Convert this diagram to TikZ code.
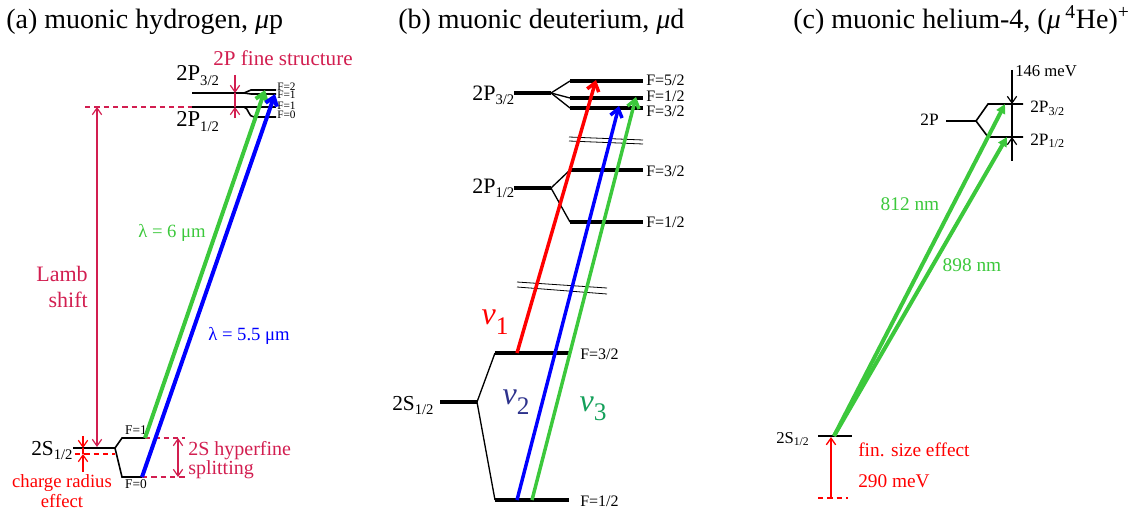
\documentclass[tikz,border=0pt]{standalone}
\usepackage{fontspec}
\setmainfont{Liberation Serif}
\usetikzlibrary{arrows.meta}

\definecolor{lambred}{RGB}{210,30,80}
\definecolor{lgreen}{RGB}{60,200,60}
\definecolor{nutwo}{RGB}{45,50,140}
\definecolor{nuthree}{RGB}{20,160,90}

\newcommand{\fsz}[2]{\fontsize{#1}{#2}\selectfont}
\newcommand{\nulab}[1]{{\fsz{24}{24}\itshape ν}\raisebox{-7pt}{\fsz{19}{19}#1}}
\newcommand{\lsub}[1]{\raisebox{-0.45ex}{\fsz{11}{11}#1}}

\begin{document}
\begin{tikzpicture}[x=0.75pt,y=-0.75pt,
    every node/.style={inner sep=0pt},
    lvl/.style={line width=1.2pt},
    blvl/.style={line width=3pt},
    split/.style={line width=1pt},
    brk/.style={line width=0.6pt},
    laser/.style={line width=3pt,-{Straight Barb[length=6pt,width=9pt]}},
    laserc/.style={line width=3pt,-{Triangle[length=7pt,width=7pt]}},
    dim/.style={line width=0.9pt,-{Straight Barb[length=5pt,width=7pt]}},
    dimboth/.style={line width=0.9pt,{Straight Barb[length=5pt,width=7pt]}-{Straight Barb[length=5pt,width=7pt]}},
    dimline/.style={line width=0.9pt,dash pattern=on 4pt off 3pt}]
\useasboundingbox (0,0) rectangle (1146,510);

  % titles
  \node[anchor=base west,font=\fsz{21}{21}] (titA) at (6,29) {(a) muonic hydrogen, \textit{μ}p};
  \node[anchor=base west,font=\fsz{21}{21}] (titB) at (398,29) {(b) muonic deuterium, \textit{μ}d};
  \node[anchor=base west,font=\fsz{21}{21}] (titC) at (793,29) {(c) muonic helium-4, (\textit{μ}\,\textsuperscript{4}He)\textsuperscript{+}};

  % (a) muonic hydrogen
  \draw [lvl]    (192,93) -- (244,93) -- (251,90) -- (276,90);
  \draw [lvl]    (244,93) -- (251,94) -- (276,94);
  \draw [lvl]    (192,107) -- (276,107);
  \draw [lvl]    (244,107) .. controls (249,108) and (248,117) .. (254,117) -- (276,117);
  \draw [lvl]    (73,448) -- (115,448) -- (122,438) -- (145,438);
  \draw [lvl]    (115,448) -- (122,477) -- (142,477);
  \coordinate (aS1) at (145,438);
  \coordinate (aS0) at (142,477);
  \coordinate (aP2) at (265,90);
  \coordinate (aP1) at (275,94);
  \node[anchor=west,font=\fsz{8.5}{8.5}] (aF2) at (277,87) {F=2};
  \node[anchor=west,font=\fsz{8.5}{8.5}] (aF1t) at (277,95) {F=1};
  \node[anchor=west,font=\fsz{8.5}{8.5}] (aF1b) at (277,106) {F=1};
  \node[anchor=west,font=\fsz{8.5}{8.5}] (aF0) at (277,115) {F=0};
  \node[anchor=base west,font=\fsz{17}{17}] (aP3lab) at (176,81) {2P\lsub{3/2}};
  \node[anchor=base west,font=\fsz{17}{17}] (aP1lab) at (176,127) {2P\lsub{1/2}};
  \node[anchor=base west,font=\fsz{16}{16}] (aSlab) at (31,455) {2S\lsub{1/2}};
  \node[font=\fsz{10}{10}] (aSF1) at (136,430) {F=1};
  \node[font=\fsz{10}{10}] (aSF0) at (136,484) {F=0};
  % fine structure
  \node[text=lambred,font=\fsz{15.8}{15.8}] (aFS) at (283,58) {2P fine structure};
  \coordinate (aFSa) at (235,75);
  \coordinate (aFSb) at (235,93);
  \coordinate (aFSc) at (235,107);
  \coordinate (aFSd) at (235,118);
  \draw [lambred,line width=0.9pt] (aFSb) -- (aFSc);
  \draw [dim,lambred] (aFSa) -- (aFSb);
  \draw [dim,lambred] (aFSd) -- (aFSc);
  % Lamb shift
  \coordinate (aLt) at (97,107);
  \coordinate (aLb) at (97,447);
  \draw [dimline,lambred] (85,107) -- (192,107);
  \draw [dimboth,lambred] (aLt) -- (aLb);
  \node[text=lambred,align=right,anchor=east,font=\fsz{16.5}{20}] (aLamb) at (88,287) {Lamb\\shift};
  % charge radius
  \coordinate (aCa) at (83,436);
  \coordinate (aCb) at (83,448);
  \coordinate (aCc) at (83,454);
  \coordinate (aCd) at (83,472);
  \draw [dimline,red] (75,454) -- (115,454);
  \draw [red,line width=0.9pt] (aCb) -- (aCc);
  \draw [dim,red] (aCa) -- (aCb);
  \draw [dim,red] (aCd) -- (aCc);
  \node[text=red,align=center,font=\fsz{14}{15}] (aCR) at (62,491) {charge radius\\effect};
  % hyperfine
  \draw [dimline,lambred] (aS1) -- (185,438);
  \draw [dimline,lambred] (aS0) -- (185,477);
  \draw [dimboth,lambred] (178,438) -- (178,477);
  \node[text=lambred,align=left,anchor=west,font=\fsz{15}{14.3}] (aHF) at (188,460) {2S hyperfine\\splitting};
  % transitions
  \draw [laser,lgreen] (aS1) -- (aP2);
  \draw [laser,blue]   (aS0) -- (aP1);
  \node[text=lgreen,font=\fsz{14}{14}] (aLg) at (172,233) {λ = 6 μm};
  \node[text=blue,font=\fsz{14}{14}] (aLbl) at (249,336) {λ = 5.5 μm};

  % (b) muonic deuterium
  \draw [blvl]   (514,93) -- (551,93);
  \draw [split]  (551,93) -- (570,81);
  \draw [split]  (551,93) -- (570,98);
  \draw [split]  (551,93) -- (570,108);
  \draw [blvl]   (570,81) -- (643,81);
  \draw [blvl]   (570,98) -- (643,98);
  \draw [blvl]   (570,108) -- (643,108);
  \draw [brk]    (569,137) -- (643,140);
  \draw [brk]    (569,141) -- (643,144);
  \draw [blvl]   (514,188) -- (551,188);
  \draw [split]  (551,188) -- (570,170);
  \draw [split]  (551,188) -- (570,222);
  \draw [blvl]   (570,170) -- (643,170);
  \draw [blvl]   (570,222) -- (643,222);
  \draw [brk]    (517,282) -- (607,288);
  \draw [brk]    (517,287) -- (607,294);
  \draw [blvl]   (440,402) -- (477,402);
  \draw [split]  (477,402) -- (495,353);
  \draw [split]  (477,402) -- (495,500);
  \draw [blvl]   (495,353) -- (569,353);
  \draw [blvl]   (495,500) -- (569,500);
  \node[anchor=west,font=\fsz{12}{12}] (bF52) at (646,80) {F=5/2};
  \node[anchor=west,font=\fsz{12}{12}] (bF12t) at (646,96) {F=1/2};
  \node[anchor=west,font=\fsz{12}{12}] (bF32t) at (646,111) {F=3/2};
  \node[anchor=west,font=\fsz{12}{12}] (bF32m) at (646,171) {F=3/2};
  \node[anchor=west,font=\fsz{12}{12}] (bF12m) at (646,222) {F=1/2};
  \node[anchor=west,font=\fsz{12}{12}] (bF32b) at (580,354) {F=3/2};
  \node[anchor=west,font=\fsz{12}{12}] (bF12b) at (580,501) {F=1/2};
  \node[anchor=base west,font=\fsz{16.5}{16.5}] (bP3lab) at (472,100) {2P\lsub{3/2}};
  \node[anchor=base west,font=\fsz{16.5}{16.5}] (bP1lab) at (472,193) {2P\lsub{1/2}};
  \node[anchor=base west,font=\fsz{16}{16}] (bSlab) at (392,410) {2S\lsub{1/2}};
  \coordinate (bS32) at (517,353);
  \coordinate (bS12a) at (517,500);
  \coordinate (bS12b) at (532,500);
  \coordinate (bP52) at (596,80);
  \coordinate (bP32) at (619,106);
  \coordinate (bP12) at (636,97);
  \draw [laser,line width=2.6pt,red]   (bS32) -- (bP52);
  \draw [laser,line width=2.6pt,blue]  (bS12a) -- (bP32);
  \draw [laser,line width=2.6pt,lgreen] (bS12b) -- (bP12);
  \node[text=red] (bNu1) at (495,322) {\nulab{1}};
  \node[text=nutwo] (bNu2) at (516,402) {\nulab{2}};
  \node[text=nuthree] (bNu3) at (593,409) {\nulab{3}};

  % (c) muonic helium-4
  \draw [lvl]    (946,121) -- (976,121) -- (988,104) -- (1023,104);
  \draw [lvl]    (976,121) -- (988,137) -- (1023,137);
  \draw [lvl]    (818,436) -- (852,436);
  \node[anchor=base east,font=\fsz{13}{13}] (c2P) at (939,125) {2P};
  \node[anchor=base west,font=\fsz{13}{13}] (cP3lab) at (1030,113) {2P\textsubscript{3/2}};
  \node[anchor=base west,font=\fsz{13}{13}] (cP1lab) at (1030,145) {2P\textsubscript{1/2}};
  \node[anchor=base west,font=\fsz{12.5}{12.5}] (cSlab) at (776,443) {2S\textsubscript{1/2}};
  \coordinate (cFt) at (1012,70);
  \coordinate (cFa) at (1012,104);
  \coordinate (cFb) at (1012,137);
  \coordinate (cFd) at (1012,161);
  \draw [line width=0.8pt] (cFt) -- (cFd);
  \draw [dim] (1012,88) -- (cFa);
  \draw [dim] (1012,153) -- (cFb);
  \node[anchor=base west,font=\fsz{12.5}{12.5}] (cmeV) at (1015,77) {146 meV};
  \coordinate (cS) at (834,436);
  \coordinate (cP3) at (1005,104);
  \coordinate (cP1) at (1007,137);
  \draw [laserc,lgreen] (cS) -- (cP3);
  \draw [laserc,lgreen] (cS) -- (cP1);
  \node[text=lgreen,font=\fsz{14.5}{14.5}] (c812) at (910,204) {812 nm};
  \node[text=lgreen,font=\fsz{14.5}{14.5}] (c898) at (972,265) {898 nm};
  % finite size
  \coordinate (cSd) at (831,498);
  \coordinate (cSu) at (831,437);
  \draw [dimline,red] (818,498) -- (848,498);
  \draw [dim,red,line width=1pt] (cSd) -- (cSu);
  \node[text=red,anchor=base west,font=\fsz{14.5}{14.5}] (cFin) at (858,456) {fin. size effect};
  \node[text=red,anchor=base west,font=\fsz{14.5}{14.5}] (cFinv) at (858,487) {290 meV};
\end{tikzpicture}
\end{document}
